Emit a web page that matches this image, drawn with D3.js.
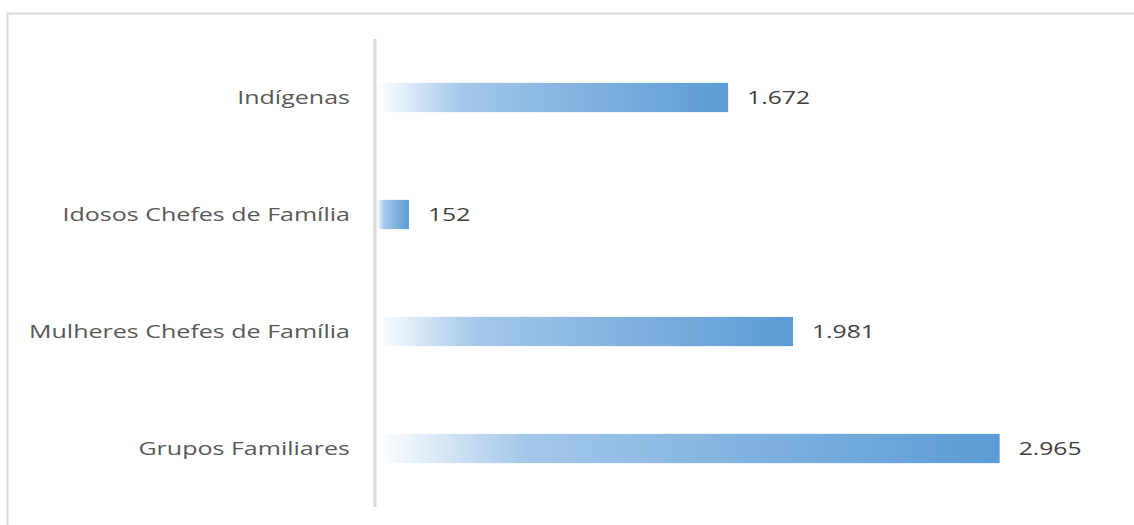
<!DOCTYPE html>
<html>
<head>
<meta charset="utf-8">
<script src="https://cdn.jsdelivr.net/npm/d3@7"></script>
<style>
  html, body { margin: 0; padding: 0; background: #fff; }
  svg { display: block; }
</style>
</head>
<body>
<div id="chart"></div>
<script>
const categories = ["Indígenas", "Idosos Chefes de Família", "Mulheres Chefes de Família", "Grupos Familiares"];
const values = [1672, 152, 1981, 2965];
const valueLabels = ["1.672", "152", "1.981", "2.965"];

const width = 1134, height = 525;
// text in the reference is drawn wide
const catStretch = 1.39;
const valStretch = 1.3;

const svg = d3.select("#chart").append("svg")
    .attr("width", width)
    .attr("height", height);

// chart frame
svg.append("rect")
    .attr("x", 7.5).attr("y", 13.5)
    .attr("width", 1140).attr("height", 530)
    .attr("fill", "none")
    .attr("stroke", "#d9d9d9")
    .attr("stroke-width", 2);

const x = d3.scaleLinear()
    .domain([0, 3000])
    .range([377, 377 + 630]);

const y = d3.scaleBand()
    .domain(categories)
    .range([39, 507])
    .paddingInner(0.75)
    .paddingOuter(0.375);

// gradient, white on the left to blue on the right
const defs = svg.append("defs");
const grad = defs.append("linearGradient")
    .attr("id", "barGrad")
    .attr("x1", "0%").attr("x2", "100%")
    .attr("y1", "0%").attr("y2", "0%");
grad.append("stop").attr("offset", "0%").attr("stop-color", "#ffffff");
grad.append("stop").attr("offset", "24%").attr("stop-color", "#a3c7e9");
grad.append("stop").attr("offset", "100%").attr("stop-color", "#5b9bd5");

const g = svg.append("g");

g.selectAll("rect.bar")
    .data(values)
    .enter().append("rect")
    .attr("class", "bar")
    .attr("x", x(0))
    .attr("y", (d, i) => y(categories[i]))
    .attr("width", d => x(d) - x(0))
    .attr("height", y.bandwidth())
    .attr("fill", "url(#barGrad)");

// vertical axis line
svg.append("line")
    .attr("x1", 375).attr("x2", 375)
    .attr("y1", 39).attr("y2", 507)
    .attr("stroke", "#d9d9d9")
    .attr("stroke-width", 3);

// category labels
const catText = g.selectAll("text.cat")
    .data(categories)
    .enter().append("text")
    .attr("class", "cat")
    .attr("x", 350)
    .attr("y", d => y(d) + y.bandwidth() / 2)
    .attr("dy", "0.35em")
    .attr("text-anchor", "end")
    .style("font-family", "'Open Sans', sans-serif")
    .style("font-size", "18px")
    .style("fill", "#595959")
    .text(d => d);

// value labels
const valText = g.selectAll("text.val")
    .data(values)
    .enter().append("text")
    .attr("class", "val")
    .attr("x", d => x(d) + 19)
    .attr("y", (d, i) => y(categories[i]) + y.bandwidth() / 2)
    .attr("dy", "0.36em")
    .attr("text-anchor", "start")
    .style("font-family", "'Open Sans', sans-serif")
    .style("font-size", "19px")
    .style("fill", "#404040")
    .text((d, i) => valueLabels[i]);

catText.each(function () {
    const len = this.getComputedTextLength();
    d3.select(this).attr("textLength", len * catStretch).attr("lengthAdjust", "spacingAndGlyphs");
});
valText.each(function () {
    const len = this.getComputedTextLength();
    d3.select(this).attr("textLength", len * valStretch).attr("lengthAdjust", "spacingAndGlyphs");
});
</script>
</body>
</html>
